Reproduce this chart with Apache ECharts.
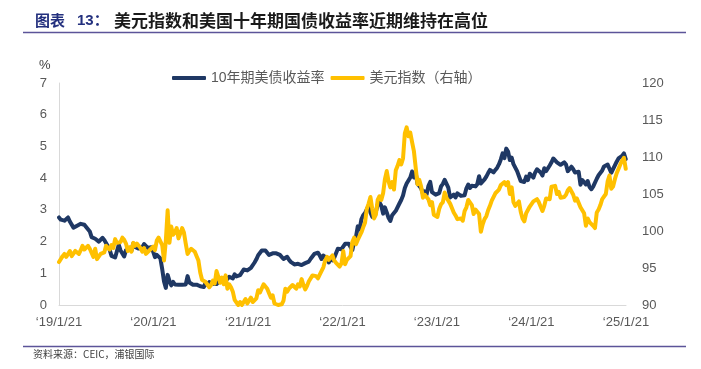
<!DOCTYPE html>
<html>
<head>
<meta charset="utf-8">
<script src="https://cdn.jsdelivr.net/npm/echarts@6/dist/echarts.min.js"></script>
<style>
html,body{margin:0;padding:0;background:#fff;}
#c{width:701px;height:369px;}
</style>
</head>
<body>
<div id="c"></div>
<script>
// Weekly observations (week starting Monday), first week = 2019-01-21
const startDate = '2019-01-21';
const xTickDates = ['2019-01-21','2020-01-21','2021-01-21','2022-01-21','2023-01-21','2024-01-21','2025-01-21'];
const xTickLabels = ['‘19/1/21','‘20/1/21','‘21/1/21','‘22/1/21','‘23/1/21','‘24/1/21','‘25/1/21'];
const seriesNames = ['10年期美债收益率','美元指数（右轴）'];

// 10-year US Treasury yield (%)
const yield2019 = [2.76,2.69,2.63,2.66,2.66,2.76,2.63,2.59,2.44,2.41,
  2.50,2.56,2.56,2.50,2.53,2.47,2.39,2.32,2.14,2.08,
  2.09,2.06,2.00,2.04,2.12,2.05,2.07,1.85,1.74,1.55,
  1.52,1.50,1.55,1.90,1.72,1.69,1.53,1.73,1.75,1.80,
  1.71,1.94,1.83,1.77,1.78,1.84,1.82,1.92,1.88,1.80];
const yield2020 = [1.82,1.82,1.68,1.51,1.58,1.59,1.47,1.13,0.74,0.54,
  0.95,0.76,0.62,0.73,0.65,0.60,0.64,0.69,0.64,0.66,
  0.65,0.91,0.71,0.70,0.64,0.67,0.64,0.63,0.59,0.55,
  0.57,0.71,0.64,0.72,0.72,0.67,0.69,0.66,0.70,0.78,
  0.74,0.84,0.88,0.82,0.89,0.83,0.84,0.97,0.90,0.95,
  0.94,0.93];
const yield2021 = [1.12,1.11,1.09,1.07,1.17,1.20,1.34,1.44,1.57,1.63,
  1.72,1.67,1.72,1.66,1.58,1.56,1.63,1.58,1.63,1.63,
  1.58,1.56,1.45,1.44,1.52,1.43,1.36,1.30,1.28,1.24,
  1.30,1.28,1.26,1.31,1.32,1.34,1.37,1.46,1.48,1.61,
  1.57,1.65,1.56,1.45,1.56,1.55,1.48,1.34,1.48,1.41,
  1.49,1.51];
const yield2022 = [1.77,1.78,1.76,1.78,1.93,1.94,1.93,1.97,1.73,1.99,
  2.14,2.48,2.38,2.70,2.83,2.90,2.89,3.13,2.92,2.78,
  2.74,2.94,3.16,3.23,3.13,2.88,3.08,2.92,2.75,2.65,
  2.83,2.84,2.97,3.03,3.20,3.31,3.45,3.69,3.83,3.88,
  4.02,4.21,4.02,4.16,3.82,3.83,3.68,3.51,3.58,3.48,
  3.75,3.88];
const yield2023 = [3.56,3.51,3.48,3.50,3.53,3.74,3.82,3.95,3.96,3.70,
  3.39,3.38,3.48,3.39,3.52,3.57,3.44,3.44,3.46,3.68,
  3.80,3.69,3.76,3.77,3.74,3.81,4.06,3.83,3.84,3.96,
  4.05,4.16,4.26,4.24,4.18,4.26,4.33,4.44,4.59,4.78,
  4.63,4.93,4.84,4.57,4.65,4.44,4.47,4.22,4.23,3.91,
  3.90,3.88];
const yield2024 = [4.05,3.94,4.14,4.14,4.02,4.18,4.28,4.25,4.18,4.08,
  4.31,4.22,4.20,4.40,4.50,4.62,4.67,4.50,4.50,4.42,
  4.46,4.50,4.43,4.22,4.26,4.36,4.28,4.18,4.24,4.20,
  3.79,3.94,3.89,3.80,3.91,3.72,3.65,3.73,3.75,3.98,
  4.09,4.08,4.24,4.37,4.31,4.43,4.41,4.17,4.15,4.40,
  4.52,4.62,4.57];
const yield2025 = [4.70,4.78,4.60];

// US Dollar Index (right axis)
const dxy2019 = [95.8,95.6,96.6,96.9,96.5,96.5,97.3,96.6,96.6,97.3,
  97.4,96.9,97.4,98.0,97.5,97.3,98.0,97.6,97.8,96.5,
  97.6,96.2,96.1,96.9,96.8,97.1,98.0,98.1,97.5,98.1,
  97.7,98.9,98.4,98.3,98.5,99.1,98.8,98.3,97.3,97.8,
  97.2,98.4,98.0,98.3,98.3,97.7,97.2,97.7,96.9,96.8];
const dxy2020 = [97.4,97.6,97.9,97.4,98.7,99.1,99.3,98.1,96.0,98.7,
  102.8,98.4,100.6,99.5,99.8,100.4,99.0,99.7,100.4,99.8,
  98.3,96.9,97.3,97.6,97.4,97.2,96.6,96.0,94.4,93.4,
  93.4,93.1,93.2,92.4,92.7,93.3,92.9,94.6,93.8,93.0,
  93.7,92.8,94.0,92.2,92.8,92.4,91.8,90.7,90.9,90.0,
  90.4,90.0];
const dxy2021 = [90.1,90.8,90.2,90.6,91.0,90.4,90.4,90.9,92.0,91.7,
  91.9,92.8,93.0,92.2,91.6,91.0,91.3,90.2,90.3,90.0,
  90.0,90.1,90.6,92.2,91.8,92.2,92.1,92.7,92.9,92.2,
  92.8,92.5,93.5,92.7,92.1,92.6,93.2,93.3,94.0,94.1,
  93.9,93.6,94.1,94.3,95.1,96.0,96.5,96.1,96.1,96.7,
  96.0,95.7];
const dxy2022 = [95.7,95.2,95.6,97.3,95.5,96.1,96.0,96.6,98.5,99.1,
  98.2,98.8,98.6,99.8,100.5,101.1,103.0,103.7,104.6,103.0,
  101.7,102.2,104.2,104.7,104.2,105.1,107.0,108.1,106.7,105.9,
  106.6,105.6,108.2,108.8,109.6,109.0,109.8,113.2,114.0,112.8,
  113.3,112.0,110.8,110.8,106.3,106.9,106.0,104.5,104.9,104.7,
  104.3,103.5];
const dxy2023 = [103.9,102.2,102.0,101.9,103.0,103.6,103.9,105.2,104.5,104.6,
  103.7,103.1,102.5,102.1,101.6,101.8,101.7,101.4,102.7,103.2,
  104.2,104.0,103.5,102.3,102.9,102.9,102.3,99.9,100.9,101.6,
  102.0,102.8,103.4,104.1,104.3,105.1,105.3,105.6,106.2,106.0,
  106.6,106.2,106.6,105.0,105.9,103.9,103.4,103.3,104.0,102.6,
  101.7,101.3];
const dxy2024 = [102.4,102.4,103.3,103.4,104.0,104.1,104.3,103.9,103.9,102.7,
  103.4,104.4,104.5,104.3,106.0,106.1,106.1,105.0,105.3,104.5,
  104.7,104.6,104.9,105.5,105.8,105.9,104.9,104.1,104.4,104.3,
  103.2,103.2,102.4,100.7,101.7,101.2,101.1,100.7,100.4,102.5,
  102.9,103.5,104.3,104.3,105.0,106.7,107.5,105.7,106.0,107.0,
  107.8,108.0,109.0];
const dxy2025 = [109.5,109.9,108.4];

const yieldAll = [].concat(yield2019,yield2020,yield2021,yield2022,yield2023,yield2024,yield2025);
const dxyAll = [].concat(dxy2019,dxy2020,dxy2021,dxy2022,dxy2023,dxy2024,dxy2025);

// x position = days since start date (value axis)
const DAY = 86400000;
const t0 = Date.parse(startDate + 'T00:00:00Z');
const dayOf = s => Math.round((Date.parse(s + 'T00:00:00Z') - t0) / DAY);
const xDays = yieldAll.map((_, i) => i * 7);
const tickDays = xTickDates.map(dayOf);

const chart = echarts.init(document.getElementById('c'), null, {renderer: 'canvas'});
const FONT = "'Liberation Sans','Noto Sans CJK SC',sans-serif";
const CJK = "'Noto Sans CJK SC',sans-serif";

chart.setOption({
  animation: false,
  textStyle: {fontFamily: FONT},
  grid: {left: 59, right: 75, top: 83, bottom: 64},
  legend: {
    left: 167, top: 66,
    itemWidth: 34, itemHeight: 4, itemGap: 6,
    icon: 'roundRect',
    textStyle: {fontSize: 14, color: '#595959', fontFamily: FONT},
    data: seriesNames
  },
  xAxis: {
    type: 'value',
    min: tickDays[0],
    max: tickDays[tickDays.length - 1],
    axisLine: {show: true, lineStyle: {color: '#D9D9D9', width: 1}},
    axisTick: {show: false},
    splitLine: {show: false},
    axisLabel: {
      customValues: tickDays,
      formatter: function (v) {
        const i = tickDays.indexOf(Math.round(+v));
        return i >= 0 ? xTickLabels[i] : '';
      },
      color: '#595959', fontSize: 13, margin: 11, hideOverlap: false
    }
  },
  yAxis: [
    {
      type: 'value', min: 0, max: 7, interval: 1, position: 'left',
      axisLine: {show: true, lineStyle: {color: '#D9D9D9', width: 1}},
      axisTick: {show: false}, splitLine: {show: false},
      axisLabel: {color: '#595959', fontSize: 13, margin: 12}
    },
    {
      type: 'value', min: 90, max: 120, interval: 5, position: 'right',
      axisLine: {show: false}, axisTick: {show: false}, splitLine: {show: false},
      axisLabel: {color: '#595959', fontSize: 13, margin: 16}
    }
  ],
  series: [
    {
      name: seriesNames[0], type: 'line', yAxisIndex: 0,
      showSymbol: false, symbol: 'none',
      lineStyle: {color: '#1F3864', width: 4, cap: 'round', join: 'round'},
      itemStyle: {color: '#1F3864'},
      data: xDays.map((d, i) => [d, yieldAll[i]])
    },
    {
      name: seriesNames[1], type: 'line', yAxisIndex: 1,
      showSymbol: false, symbol: 'none',
      lineStyle: {color: '#FFC000', width: 4, cap: 'round', join: 'round'},
      itemStyle: {color: '#FFC000'},
      data: xDays.map((d, i) => [d, dxyAll[i]])
    }
  ],
  graphic: [
    {type: 'text', left: 35, top: 13, style: {text: '图表', fill: '#23307E', font: "bold 15px " + CJK}},
    {type: 'text', left: 77, top: 13, style: {text: '13：', fill: '#23307E', font: "bold 15px " + FONT}},
    {type: 'text', left: 114, top: 12, style: {text: '美元指数和美国十年期国债收益率近期维持在高位', fill: '#1a1a1a', font: "bold 17px " + CJK}},
    {type: 'line', shape: {x1: 23, y1: 32.5, x2: 686, y2: 32.5}, style: {stroke: '#5C5499', lineWidth: 1.5}},
    {type: 'text', left: 39, top: 59, style: {text: '%', fill: '#404040', font: "13px " + FONT}},
    {type: 'line', shape: {x1: 23, y1: 346.5, x2: 686, y2: 346.5}, style: {stroke: '#5C5499', lineWidth: 1.5}},
    {type: 'text', left: 33, top: 349, style: {text: '资料来源：CEIC，浦银国际', fill: '#404040', font: "10px " + CJK}}
  ]
});
</script>
</body>
</html>
